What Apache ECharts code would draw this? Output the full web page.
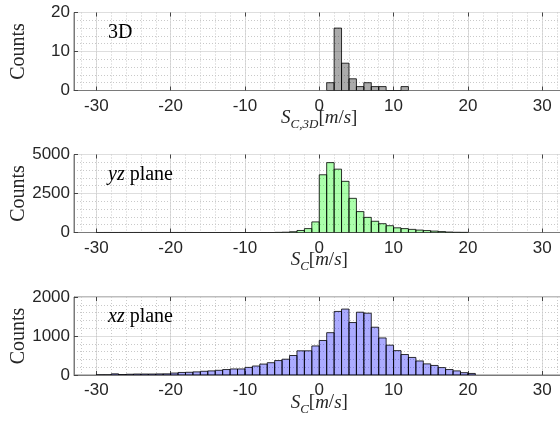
<!DOCTYPE html>
<html>
<head>
<meta charset="utf-8">
<script src="https://cdn.jsdelivr.net/npm/echarts@6/dist/echarts.min.js"></script>
<style>
  html, body { margin: 0; padding: 0; background: #ffffff; }
  #chart { width: 560px; height: 429px; }
</style>
</head>
<body>
<div id="chart"></div>
<script>
// Histograms of the convection speed S_C: 3D estimate and two planar estimates.
const xMin = -33;
const xMax = 33;
const xTickValues = [-30, -20, -10, 0, 10, 20, 30];
const xMinorGridValues = [-32, -30, -28, -26, -24, -22, -20, -18, -16, -14, -12, -10, -8, -6, -4, -2,
  0, 2, 4, 6, 8, 10, 12, 14, 16, 18, 20, 22, 24, 26, 28, 30, 32];
const binWidth = 1;

// 3D panel: left bin edges and counts
const edges3D = [1, 2, 3, 4, 5, 6, 7, 8, 9, 10, 11];
const counts3D = [2, 16, 7, 3, 1, 2, 1, 1, 0, 0, 1];
const yTicks3D = [0, 10, 20];

// yz plane
const edgesYZ = [-30, -29, -28, -27, -26, -25, -24, -23, -22, -21, -20, -19, -18, -17, -16, -15, -14, -13, -12, -11,
  -10, -9, -8, -7, -6, -5, -4, -3, -2, -1, 0, 1, 2, 3, 4, 5, 6, 7, 8, 9,
  10, 11, 12, 13, 14, 15, 16, 17, 18, 19];
const countsYZ = [2, 3, 2, 3, 2, 3, 2, 3, 2, 2, 3, 2, 2, 0, 0, 0, 0, 0, 0, 0,
  0, 0, 0, 0, 10, 20, 50, 130, 250, 680, 3700, 4480, 4060, 3280, 2190, 1340, 970, 720, 565, 435,
  300, 250, 200, 155, 125, 90, 60, 30, 15, 10];
const yTicksYZ = [0, 2500, 5000];

// xz plane
const edgesXZ = [-30, -29, -28, -27, -26, -25, -24, -23, -22, -21, -20, -19, -18, -17, -16, -15, -14, -13, -12, -11,
  -10, -9, -8, -7, -6, -5, -4, -3, -2, -1, 0, 1, 2, 3, 4, 5, 6, 7, 8, 9,
  10, 11, 12, 13, 14, 15, 16, 17, 18, 19, 20];
const countsXZ = [4, 4, 30, 12, 20, 25, 25, 25, 28, 30, 50, 65, 70, 80, 95, 105, 120, 140, 155, 155,
  195, 230, 280, 315, 370, 405, 500, 620, 620, 745, 885, 1085, 1630, 1690, 1345, 1610, 1585, 1225, 950, 765,
  625, 525, 450, 360, 285, 245, 190, 140, 105, 60, 40];
const yTicksXZ = [0, 1000, 2000];

const panels = [
  { edges: edges3D, counts: counts3D, yTicks: yTicks3D, fill: 'rgba(0,0,0,0.33)', top: 12.5,
    label: '{n|3D}', xName: '{s|S}{sub|C,3D}{b|[}{i|m}{b|/}{i|s}{b|]}' },
  { edges: edgesYZ, counts: countsYZ, yTicks: yTicksYZ, fill: 'rgba(0,255,0,0.33)', top: 154.5,
    label: '{m|yz} {n|plane}', xName: '{s|S}{sub|C}{b|[}{i|m}{b|/}{i|s}{b|]}' },
  { edges: edgesXZ, counts: countsXZ, yTicks: yTicksXZ, fill: 'rgba(0,0,255,0.33)', top: 297,
    label: '{m|xz} {n|plane}', xName: '{s|S}{sub|C}{b|[}{i|m}{b|/}{i|s}{b|]}' }
];

const plotHeight = 78;
const axisColor = '#7a7a7a';
const textColor = '#262626';
const majorGrid = '#dedede';
const minorGrid = '#c9c9c9';
const sans = 'Liberation Sans';
const serif = 'Liberation Serif';

const nameRich = {
  s: { fontFamily: serif, fontStyle: 'italic', fontSize: 19, lineHeight: 20, verticalAlign: 'top', color: textColor },
  sub: { fontFamily: serif, fontStyle: 'italic', fontSize: 13, lineHeight: 12, padding: [10, 0, 0, 0], verticalAlign: 'top', color: textColor },
  b: { fontFamily: serif, fontSize: 19, lineHeight: 20, verticalAlign: 'top', color: textColor },
  i: { fontFamily: serif, fontStyle: 'italic', fontSize: 19, lineHeight: 20, verticalAlign: 'top', color: textColor }
};
const labelRich = {
  n: { fontFamily: serif, fontSize: 20, color: '#000' },
  m: { fontFamily: serif, fontStyle: 'italic', fontSize: 20, color: '#000' }
};

function histItem(fill) {
  return function (params, api) {
    const lo = api.value(0);
    const hi = api.value(1);
    const c = api.value(2);
    const p0 = api.coord([lo, c]);
    const p1 = api.coord([hi, 0]);
    return {
      type: 'rect',
      shape: { x: p0[0], y: p0[1], width: p1[0] - p0[0], height: p1[1] - p0[1] },
      style: { fill: fill, stroke: 'rgba(0,0,0,0.8)', lineWidth: 1 }
    };
  };
}

const grids = [], xAxes = [], yAxes = [], series = [], titles = [];
panels.forEach((p, k) => {
  grids.push({ left: 74, right: -4.5, top: p.top, height: plotHeight, show: true,
    containLabel: false, outerBoundsMode: 'none',
    borderColor: axisColor, borderWidth: 1, backgroundColor: 'transparent' });

  const yMax = p.yTicks[p.yTicks.length - 1];
  const yStep = p.yTicks[1] - p.yTicks[0];
  // bottom x axis: labels, ticks, major grid
  xAxes.push({
    gridIndex: k, type: 'value', min: xMin, max: xMax, position: 'bottom',
    axisLine: { show: true, onZero: false, lineStyle: { color: axisColor, width: 1 } },
    axisTick: { show: true, inside: true, length: 4, customValues: xTickValues, lineStyle: { color: '#444' } },
    axisLabel: { customValues: xTickValues, fontFamily: sans, fontSize: 17, color: textColor, margin: 7 },
    splitLine: { show: true, lineStyle: { color: majorGrid, width: 1 } },
    name: p.xName, nameLocation: 'middle', nameGap: 18, nameMoveOverlap: false,
    nameTextStyle: { rich: nameRich }
  });
  // minor x grid (dotted)
  xAxes.push({
    gridIndex: k, type: 'value', min: xMin, max: xMax, position: 'bottom',
    axisLine: { show: false, onZero: false }, axisLabel: { show: false },
    axisTick: { show: false, customValues: xMinorGridValues },
    splitLine: { show: true, lineStyle: { color: minorGrid, width: 1, type: [1, 2] } }
  });
  // top mirror ticks
  xAxes.push({
    gridIndex: k, type: 'value', min: xMin, max: xMax, position: 'top',
    axisLine: { show: false, onZero: false }, axisLabel: { show: false },
    axisTick: { show: true, inside: true, length: 4, customValues: xTickValues, lineStyle: { color: '#444' } },
    splitLine: { show: false }
  });

  yAxes.push({
    gridIndex: k, type: 'value', min: 0, max: yMax, interval: yStep, position: 'left',
    axisLine: { show: true, onZero: false, lineStyle: { color: axisColor, width: 1 } },
    axisTick: { show: true, inside: true, length: 4, lineStyle: { color: '#444' } },
    axisLabel: { fontFamily: sans, fontSize: 17, color: textColor, margin: 4,
      formatter: (v) => String(v) },
    splitLine: { show: true, lineStyle: { color: majorGrid, width: 1 } },
    minorTick: { show: false, splitNumber: 5 },
    minorSplitLine: { show: true, lineStyle: { color: minorGrid, width: 1, type: [1, 2] } },
    name: 'Counts', nameLocation: 'middle', nameGap: 45, nameMoveOverlap: false,
    nameTextStyle: { fontFamily: serif, fontSize: 20, color: textColor }
  });
  yAxes.push({
    gridIndex: k, type: 'value', min: 0, max: yMax, interval: yStep, position: 'right',
    axisLine: { show: false, onZero: false }, axisLabel: { show: false },
    axisTick: { show: true, inside: true, length: 4, lineStyle: { color: '#444' } },
    splitLine: { show: false }
  });

  series.push({
    type: 'custom',
    xAxisIndex: k * 3, yAxisIndex: k * 2,
    renderItem: histItem(p.fill),
    encode: { x: [0, 1], y: 2 },
    data: p.edges.map((e, i) => [e, e + binWidth, p.counts[i]]),
    clip: true
  });

  titles.push({
    text: p.label, left: 108, top: p.top + 10, padding: 0,
    textStyle: { rich: labelRich, fontFamily: serif, fontSize: 20, fontWeight: 'normal', color: '#000' }
  });
});

const chart = echarts.init(document.getElementById('chart'), null, { renderer: 'canvas' });
chart.setOption({
  animation: false,
  backgroundColor: '#ffffff',
  title: titles,
  grid: grids,
  xAxis: xAxes,
  yAxis: yAxes,
  series: series
});
</script>
</body>
</html>
